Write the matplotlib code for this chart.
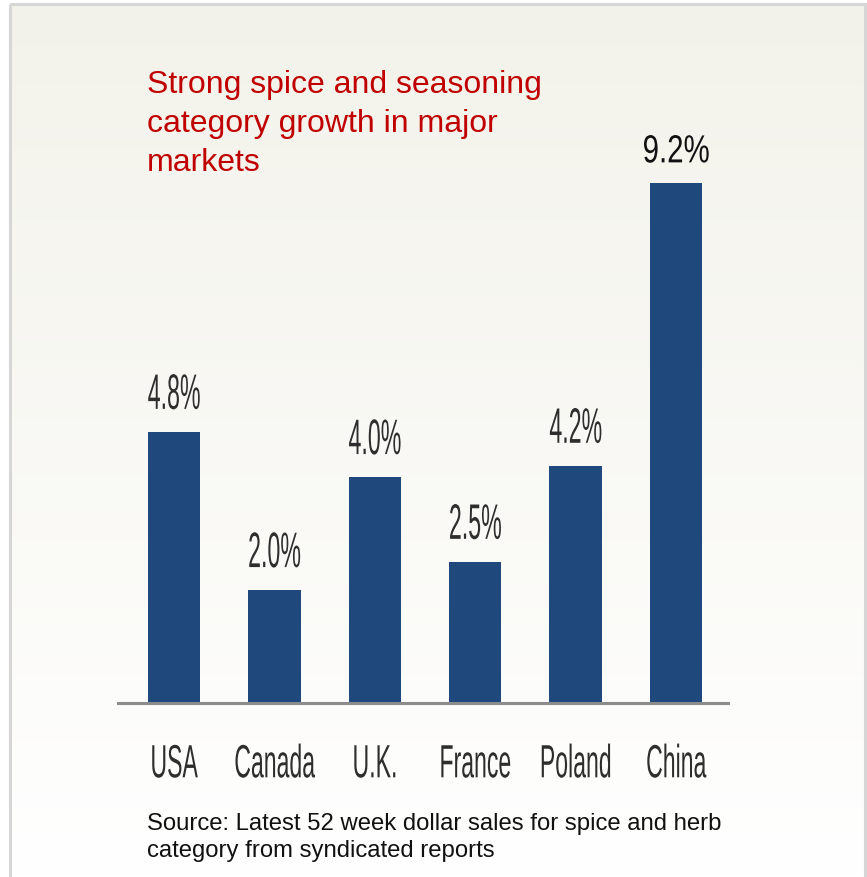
import matplotlib
matplotlib.use("Agg")
import matplotlib.pyplot as plt
import numpy as np
from matplotlib.patches import Rectangle
from matplotlib.patheffects import AbstractPathEffect
from matplotlib.transforms import Affine2D

# data
markets = ["USA", "Canada", "U.K.", "France", "Poland", "China"]
growth = [4.8, 2.0, 4.0, 2.5, 4.2, 9.2]
value_labels = ["4.8%", "2.0%", "4.0%", "2.5%", "4.2%", "9.2%"]

title = "Strong spice and seasoning\ncategory growth in major\nmarkets"
source = "Source: Latest 52 week dollar sales for spice and herb\ncategory from syndicated reports"


# labels in the original use a tall narrow font: draw a small font and stretch it upward
class Tall(AbstractPathEffect):
    def __init__(self, sy):
        super().__init__()
        self.sy = sy

    def draw_path(self, renderer, gc, tpath, affine, rgbFace=None):
        bx, by = affine.transform((0, 0))
        st = Affine2D().translate(-bx, -by).scale(1, self.sy).translate(bx, by)
        renderer.draw_path(gc, tpath, affine + st, rgbFace)


W, H = 867, 878
fig = plt.figure(figsize=(W / 100, H / 100), dpi=100)

# background panel with soft gradient and thin border
bg = fig.add_axes([0, 0, 1, 1])
bg.axis("off")
top = np.array([0.953, 0.949, 0.918])
bot = np.array([1.0, 1.0, 1.0])
t = np.linspace(0, 1, 256)[:, None]
grad = top + (bot - top) * t
grad = np.repeat(grad[:, None, :], 2, axis=1)
bg.imshow(grad, extent=[10, 865, H, 5], aspect="auto", interpolation="bilinear")
bg.add_patch(Rectangle((10, 5), 855, H, fill=False, ec="#d6d6d6", lw=2.2))
bg.set_xlim(0, W)
bg.set_ylim(H, 0)

ax = fig.add_axes([118 / W, 1 - 704 / H, (728 - 118) / W, 565 / H])
ax.patch.set_alpha(0)
x = np.arange(len(markets))
ax.bar(x, growth, width=0.52, color="#1F497D", zorder=2)
ax.set_xlim(-0.558, 5.518)
ax.set_ylim(0, 10)
for s in ["top", "left", "right"]:
    ax.spines[s].set_visible(False)
ax.spines["bottom"].set_color("#8c8c8c")
ax.spines["bottom"].set_linewidth(2.2)
ax.set_xticks([])
ax.set_yticks([])

for xi, v, lab in zip(x, growth, value_labels):
    if lab == "9.2%":
        # the China label is set in a wider, less stretched face
        ax.annotate(lab, (xi, v), xytext=(0, 15), textcoords="offset points",
                    ha="center", va="baseline", fontsize=21.2, color="#111111",
                    family="Liberation Sans", path_effects=[Tall(1.33)])
    else:
        ax.annotate(lab, (xi, v), xytext=(0, 16.5), textcoords="offset points",
                    ha="center", va="baseline", fontsize=16.7, color="#2e2e2e",
                    family="Liberation Sans", path_effects=[Tall(2.15)])
for xi, m in zip(x, markets):
    ax.annotate(m, (xi, 0), xycoords=("data", "axes fraction"), xytext=(0, -53.5),
                textcoords="offset points", ha="center", va="baseline",
                fontsize=16.6, color="#2e2e2e", family="Liberation Sans",
                path_effects=[Tall(2.02)])

# multi-line text: baseline alignment refers to the last line
fig.text(147 / W, 1 - 171 / H, title, ha="left", va="baseline", fontsize=23,
         color="#C00000", family="Liberation Sans", linespacing=1.4)
fig.text(147 / W, 1 - 857 / H, source, ha="left", va="baseline", fontsize=17.2,
         color="#111111", family="Liberation Sans", linespacing=1.3)

fig.savefig("out.png", dpi=100)
